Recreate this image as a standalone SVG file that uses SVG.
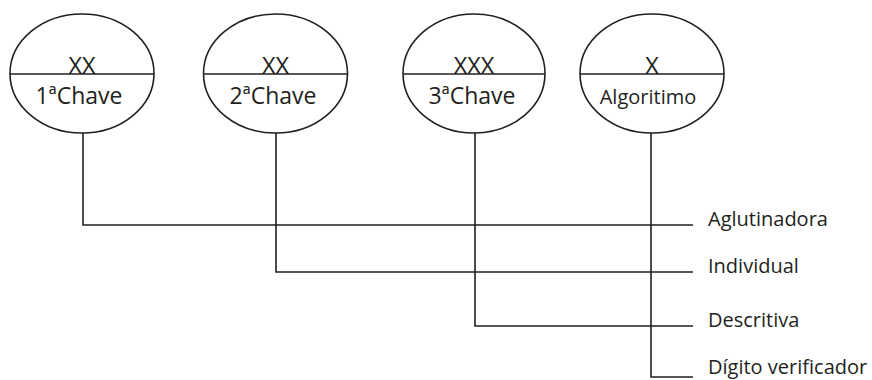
<svg xmlns="http://www.w3.org/2000/svg" width="872" height="380" viewBox="0 0 872 380">
  <style>
    .shape { fill: #fff; stroke: #231f20; stroke-width: 1.6; }
    .line { fill: none; stroke: #231f20; stroke-width: 1.6; }
    .t { font-family: "Open Sans", "Noto Sans", sans-serif; fill: #231f20; text-anchor: middle; }
    .big { font-size: 23.5px; }
    .mid { font-size: 23px; }
    .small { font-size: 20px; }
    .lbl { font-family: "Open Sans", "Noto Sans", sans-serif; fill: #231f20; font-size: 20px; }
  </style>
  <rect width="872" height="380" fill="#fff"/>

  <!-- connectors from each key down and across to its label -->
  <g id="connectors">
    <polyline class="line" points="83,133 83,225 693,225"/>
    <polyline class="line" points="276,133 276,272 693,272"/>
    <polyline class="line" points="475,133 475,326 693,326"/>
    <polyline class="line" points="651,133 651,377 693,377"/>
  </g>

  <g id="key1">
    <ellipse class="shape" cx="82" cy="73.5" rx="72" ry="59.5"/>
    <line class="line" x1="10" y1="74" x2="154" y2="74"/>
    <text class="t big" x="82" y="74">XX</text>
    <text class="t mid" x="79" y="104">1ªChave</text>
  </g>

  <g id="key2">
    <ellipse class="shape" cx="275.5" cy="73.5" rx="72" ry="59.5"/>
    <line class="line" x1="203.5" y1="74" x2="347.5" y2="74"/>
    <text class="t big" x="275.5" y="74">XX</text>
    <text class="t mid" x="273" y="104">2ªChave</text>
  </g>

  <g id="key3">
    <ellipse class="shape" cx="474" cy="73.5" rx="71" ry="59.5"/>
    <line class="line" x1="403" y1="74" x2="545" y2="74"/>
    <text class="t big" x="474" y="74">XXX</text>
    <text class="t mid" x="472" y="104">3ªChave</text>
  </g>

  <g id="key4">
    <ellipse class="shape" cx="652" cy="73.5" rx="72" ry="59.5"/>
    <line class="line" x1="580" y1="74" x2="724" y2="74"/>
    <text class="t big" x="652" y="74">X</text>
    <text class="t small" x="648" y="104">Algoritimo</text>
  </g>

  <g id="labels">
    <text class="lbl" x="708" y="226">Aglutinadora</text>
    <text class="lbl" x="708" y="273">Individual</text>
    <text class="lbl" x="708" y="327">Descritiva</text>
    <text class="lbl" x="708" y="374">Dígito verificador</text>
  </g>
</svg>
